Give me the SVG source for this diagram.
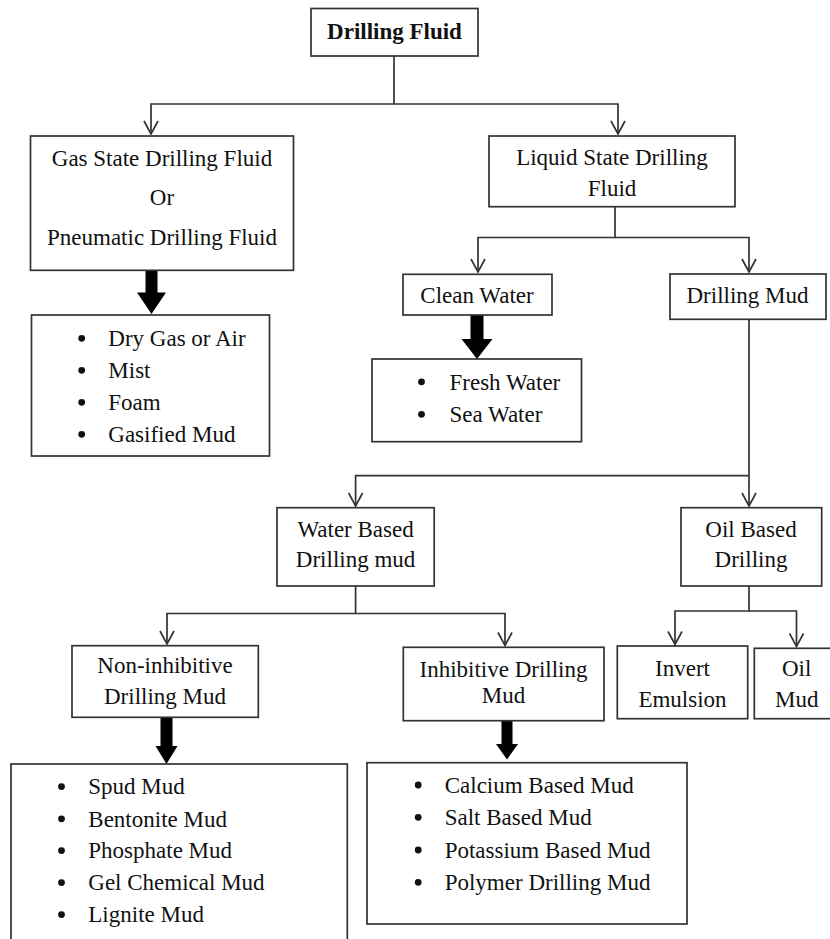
<svg xmlns="http://www.w3.org/2000/svg" width="830" height="939" viewBox="0 0 830 939">
<style>
  .box { fill: #ffffff; stroke: #333333; stroke-width: 1.7; }
  .t { font-family: "Liberation Serif", "Times New Roman", serif; font-size: 23px; fill: #111111; }
  .c { text-anchor: middle; }
  .b { font-weight: bold; }
  .con { fill: none; stroke: #333333; stroke-width: 1.7; }
  .thick { fill: #000000; stroke: none; }
  .dot { fill: #111111; }
</style>
<defs>
  <marker id="open" markerUnits="userSpaceOnUse" markerWidth="16" markerHeight="16" viewBox="0 0 16 16" refX="14" refY="8" orient="auto">
    <path d="M1,1 L14,8 L1,15" fill="none" stroke="#333333" stroke-width="1.7"/>
  </marker>
</defs>
<rect width="830" height="939" fill="#ffffff"/>

<g id="connectors">
  <path class="con" d="M394,56 V104 H151 V134" marker-end="url(#open)"/>
  <path class="con" d="M394,104 H618 V134" marker-end="url(#open)"/>
  <path class="con" d="M615,207 V237.5 H478 V272" marker-end="url(#open)"/>
  <path class="con" d="M615,237.5 H749 V272" marker-end="url(#open)"/>
  <path class="con" d="M749,319 V506" marker-end="url(#open)"/>
  <path class="con" d="M749,475.7 H355.6 V506" marker-end="url(#open)"/>
  <path class="con" d="M355.6,586 V613.5 H167 V644" marker-end="url(#open)"/>
  <path class="con" d="M355.6,613.5 H505 V645.5" marker-end="url(#open)"/>
  <path class="con" d="M749,586 V611 H675 V644.5" marker-end="url(#open)"/>
  <path class="con" d="M749,611 H796.5 V646.5" marker-end="url(#open)"/>
  <polygon class="thick" points="145.5,270 157.5,270 157.5,292.5 166,292.5 151.5,314 137,292.5 145.5,292.5"/>
  <polygon class="thick" points="470.5,315 483.5,315 483.5,339 492.5,339 477,359 461.5,339 470.5,339"/>
  <polygon class="thick" points="160.5,717.3 172.5,717.3 172.5,746 177.5,746 166.5,764 155.5,746 160.5,746"/>
  <polygon class="thick" points="501.5,720.7 512.5,720.7 512.5,744 518,744 507,759.5 496,744 501.5,744"/>
</g>

<g id="drilling-fluid">
  <rect class="box" x="311" y="8.5" width="167" height="47.5"/>
  <text class="t c b" x="394.5" y="39">Drilling Fluid</text>
</g>

<g id="gas-state">
  <rect class="box" x="30.5" y="136" width="263" height="134.3"/>
  <text class="t c" x="162" y="165.7">Gas State Drilling Fluid</text>
  <text class="t c" x="162" y="205">Or</text>
  <text class="t c" x="162" y="245">Pneumatic Drilling Fluid</text>
</g>

<g id="liquid-state">
  <rect class="box" x="489" y="136" width="246" height="70.7"/>
  <text class="t c" x="612" y="165">Liquid State Drilling</text>
  <text class="t c" x="612" y="196">Fluid</text>
</g>

<g id="clean-water">
  <rect class="box" x="403" y="274.3" width="149" height="40.7"/>
  <text class="t c" x="477" y="303.3">Clean Water</text>
</g>

<g id="drilling-mud">
  <rect class="box" x="670" y="274" width="156" height="45.3"/>
  <text class="t c" x="747.5" y="303.3">Drilling Mud</text>
</g>

<g id="gas-list">
  <rect class="box" x="31.5" y="315" width="238" height="141"/>
  <circle class="dot" cx="81.7" cy="338.3" r="3.4"/>
  <text class="t" x="108.3" y="346">Dry Gas or Air</text>
  <circle class="dot" cx="81.7" cy="370.3" r="3.4"/>
  <text class="t" x="108.3" y="378">Mist</text>
  <circle class="dot" cx="81.7" cy="402.3" r="3.4"/>
  <text class="t" x="108.3" y="410">Foam</text>
  <circle class="dot" cx="81.7" cy="434.3" r="3.4"/>
  <text class="t" x="108.3" y="442">Gasified Mud</text>
</g>

<g id="water-list">
  <rect class="box" x="372" y="359" width="209.5" height="82.7"/>
  <circle class="dot" cx="421.5" cy="381.8" r="3.4"/>
  <text class="t" x="449.5" y="389.5">Fresh Water</text>
  <circle class="dot" cx="421.5" cy="414.3" r="3.4"/>
  <text class="t" x="449.5" y="422">Sea Water</text>
</g>

<g id="water-based">
  <rect class="box" x="277" y="507.7" width="157.2" height="78.3"/>
  <text class="t c" x="355.6" y="537.3">Water Based</text>
  <text class="t c" x="355.6" y="567.3">Drilling mud</text>
</g>

<g id="oil-based">
  <rect class="box" x="681" y="507.7" width="140.7" height="78.3"/>
  <text class="t c" x="751" y="537">Oil Based</text>
  <text class="t c" x="751" y="567">Drilling</text>
</g>

<g id="non-inhibitive">
  <rect class="box" x="72" y="645.7" width="186.3" height="71.6"/>
  <text class="t c" x="165" y="673.3">Non-inhibitive</text>
  <text class="t c" x="165" y="704.3">Drilling Mud</text>
</g>

<g id="inhibitive">
  <rect class="box" x="403.3" y="647.3" width="200.7" height="73.4"/>
  <text class="t c" x="503.5" y="676.7">Inhibitive Drilling</text>
  <text class="t c" x="503.5" y="702.7">Mud</text>
</g>

<g id="invert-emulsion">
  <rect class="box" x="617.3" y="646" width="130.4" height="72.7"/>
  <text class="t c" x="682.5" y="676">Invert</text>
  <text class="t c" x="682.5" y="706.7">Emulsion</text>
</g>

<g id="oil-mud">
  <rect class="box" x="754.3" y="648.3" width="85" height="70.4"/>
  <text class="t c" x="796.7" y="676">Oil</text>
  <text class="t c" x="796.7" y="706.7">Mud</text>
</g>

<g id="non-inhibitive-list">
  <rect class="box" x="11" y="764" width="336.3" height="185"/>
  <circle class="dot" cx="61.5" cy="786.6" r="3.4"/>
  <text class="t" x="88.3" y="794.3">Spud Mud</text>
  <circle class="dot" cx="61.5" cy="818.8" r="3.4"/>
  <text class="t" x="88.3" y="826.5">Bentonite Mud</text>
  <circle class="dot" cx="61.5" cy="850.6" r="3.4"/>
  <text class="t" x="88.3" y="858.3">Phosphate Mud</text>
  <circle class="dot" cx="61.5" cy="882.6" r="3.4"/>
  <text class="t" x="88.3" y="890.3">Gel Chemical Mud</text>
  <circle class="dot" cx="61.5" cy="914.6" r="3.4"/>
  <text class="t" x="88.3" y="922.3">Lignite Mud</text>
</g>

<g id="inhibitive-list">
  <rect class="box" x="367" y="762.7" width="320" height="161.3"/>
  <circle class="dot" cx="418.2" cy="785" r="3.4"/>
  <text class="t" x="444.7" y="792.7">Calcium Based Mud</text>
  <circle class="dot" cx="418.2" cy="817.3" r="3.4"/>
  <text class="t" x="444.7" y="825">Salt Based Mud</text>
  <circle class="dot" cx="418.2" cy="850" r="3.4"/>
  <text class="t" x="444.7" y="857.7">Potassium Based Mud</text>
  <circle class="dot" cx="418.2" cy="882.3" r="3.4"/>
  <text class="t" x="444.7" y="890">Polymer Drilling Mud</text>
</g>
</svg>
